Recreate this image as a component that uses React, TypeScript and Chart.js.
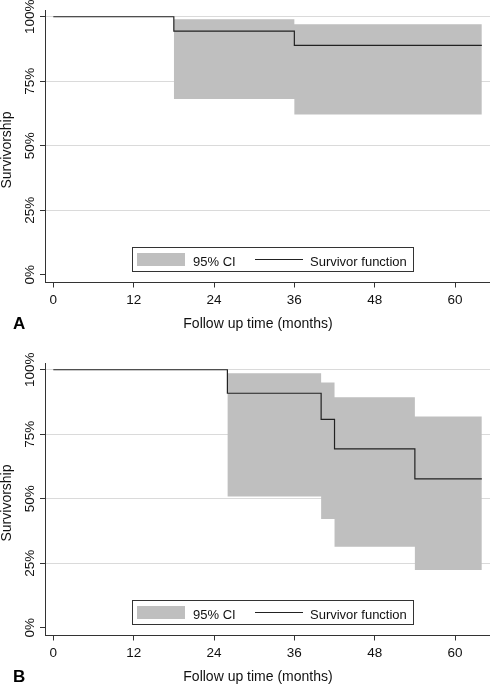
import React, { useEffect, useRef } from 'react';
import { Chart, registerables } from 'chart.js';

Chart.register(...registerables);

// ---- shared axis data ----
const xTickValues = [0, 12, 24, 36, 48, 60];
const yTickValues = [0, 25, 50, 75, 100];
const xTitle = 'Follow up time (months)';
const yTitle = 'Survivorship';
const legendLabels = ['95% CI', 'Survivor function'];

// ---- Panel A ----
const timesA = [0, 18, 36, 64];
const survivalA = [100, 94.4, 88.9, 88.9];
const ciTimesA = [18, 36, 64];
const upperA = [99.0, 97.1, 97.1];
const lowerA = [68.1, 62.1, 62.1];

// ---- Panel B ----
const timesB = [0, 26, 40, 42, 54, 64];
const survivalB = [100, 90.9, 80.8, 69.3, 57.7, 57.7];
const ciTimesB = [26, 40, 42, 54, 64];
const upperB = [98.6, 95.1, 89.3, 81.9, 81.9];
const lowerB = [50.9, 42.2, 31.4, 22.4, 22.4];

const FONT = '"Liberation Sans", Arial, sans-serif';
const CI_COLOR = '#bfbfbf';
const LINE_COLOR = '#222222';
const AXIS_COLOR = '#333333';
const GRID_COLOR = '#dadada';
const TEXT_COLOR = '#111111';

const W = 490;
const H = 353;

function toPts(xs: number[], ys: number[]) {
  return xs.map((x, i) => ({ x, y: ys[i] }));
}

function makeTextPlugin(letter: string) {
  return {
    id: 'kmText' + letter,
    afterDraw(chart: any) {
      const ctx = chart.ctx as CanvasRenderingContext2D;
      const xs = chart.scales.x;
      const ys = chart.scales.y;
      ctx.save();
      ctx.fillStyle = TEXT_COLOR;
      ctx.textBaseline = 'alphabetic';

      // x tick labels
      ctx.font = `13.5px ${FONT}`;
      ctx.textAlign = 'center';
      for (const v of xTickValues) {
        ctx.fillText(String(v), xs.getPixelForValue(v), 326);
      }
      // y tick labels (rotated)
      for (const v of yTickValues) {
        ctx.save();
        ctx.translate(34, ys.getPixelForValue(v));
        ctx.rotate(-Math.PI / 2);
        ctx.fillText(v + '%', 0, 0);
        ctx.restore();
      }
      // axis titles
      ctx.font = `14px ${FONT}`;
      ctx.fillText(xTitle, 258, 350);
      ctx.save();
      ctx.translate(10.5, 172);
      ctx.rotate(-Math.PI / 2);
      ctx.fillText(yTitle, 0, 0);
      ctx.restore();

      // panel letter
      ctx.font = `bold 17px ${FONT}`;
      ctx.textAlign = 'left';
      ctx.fillStyle = '#000';
      ctx.fillText(letter, 13, 350.5);

      // legend
      ctx.fillStyle = '#ffffff';
      ctx.fillRect(132.5, 269.5, 281, 24);
      ctx.strokeStyle = AXIS_COLOR;
      ctx.lineWidth = 1;
      ctx.strokeRect(132.5, 269.5, 281, 24);
      ctx.fillStyle = CI_COLOR;
      ctx.fillRect(137, 275, 48, 13);
      ctx.strokeStyle = LINE_COLOR;
      ctx.beginPath();
      ctx.moveTo(255, 281.5);
      ctx.lineTo(303, 281.5);
      ctx.stroke();
      ctx.fillStyle = TEXT_COLOR;
      ctx.font = `13px ${FONT}`;
      ctx.fillText(legendLabels[0], 193, 287.5);
      ctx.fillText(legendLabels[1], 310, 287.5);
      ctx.restore();
    },
  };
}

function KMPanel(props: {
  letter: string;
  top: number;
  times: number[];
  survival: number[];
  ciTimes: number[];
  upper: number[];
  lower: number[];
}) {
  const ref = useRef<HTMLCanvasElement>(null);
  useEffect(() => {
    if (!ref.current) return;
    const chart = new Chart(ref.current, {
      type: 'line',
      data: {
        datasets: [
          {
            label: legendLabels[1],
            data: toPts(props.times, props.survival),
            stepped: 'before',
            borderWidth: 1.2,
            borderColor: LINE_COLOR,
            pointRadius: 0,
            fill: false,
            order: 0,
          },
          {
            label: 'upper',
            data: toPts(props.ciTimes, props.upper),
            stepped: 'before',
            borderWidth: 0,
            borderColor: 'rgba(0,0,0,0)',
            backgroundColor: CI_COLOR,
            pointRadius: 0,
            fill: '+1',
            order: 1,
          },
          {
            label: 'lower',
            data: toPts(props.ciTimes, props.lower),
            stepped: 'before',
            borderWidth: 0,
            borderColor: 'rgba(0,0,0,0)',
            pointRadius: 0,
            fill: false,
            order: 2,
          },
        ],
      } as any,
      options: {
        animation: false,
        responsive: false,
        devicePixelRatio: 1,
        layout: { padding: { top: 32.3, left: 0, right: 0, bottom: 0 } },
        plugins: {
          legend: { display: false },
          tooltip: { enabled: false },
          filler: { drawTime: 'beforeDatasetsDraw' },
        },
        scales: {
          x: {
            type: 'linear',
            min: -1.24,
            max: 65.22,
            afterBuildTicks: (s: any) => {
              s.ticks = xTickValues.map((v) => ({ value: v }));
            },
            afterFit: (s: any) => {
              s.height = 48.5;
            },
            ticks: { display: false },
            grid: {
              drawOnChartArea: false,
              drawTicks: true,
              tickLength: 5,
              tickColor: AXIS_COLOR,
              tickWidth: 1,
            },
            border: { display: true, color: AXIS_COLOR, width: 1 },
          },
          y: {
            type: 'linear',
            min: -3,
            max: 102.5,
            afterBuildTicks: (s: any) => {
              s.ticks = yTickValues.map((v) => ({ value: v }));
            },
            afterFit: (s: any) => {
              s.width = 45;
            },
            ticks: { display: false },
            grid: {
              drawOnChartArea: true,
              drawTicks: true,
              tickLength: 5,
              tickColor: AXIS_COLOR,
              tickWidth: 1,
              lineWidth: 1,
              color: (c: any) => (c.tick && c.tick.value === 0 ? 'rgba(0,0,0,0)' : GRID_COLOR),
            },
            border: { display: true, color: AXIS_COLOR, width: 1 },
          },
        },
      } as any,
      plugins: [makeTextPlugin(props.letter)],
    });
    return () => chart.destroy();
  }, []);
  return (
    <canvas
      ref={ref}
      width={W}
      height={H}
      style={{ position: 'absolute', left: 0, top: props.top, width: W, height: H, display: 'block' }}
    />
  );
}

export default function App() {
  return (
    <div
      style={{
        position: 'absolute',
        left: 0,
        top: 0,
        width: W,
        height: 684,
        overflow: 'hidden',
        background: '#ffffff',
      }}
    >
      <KMPanel letter="A" top={-22} times={timesA} survival={survivalA} ciTimes={ciTimesA} upper={upperA} lower={lowerA} />
      <KMPanel letter="B" top={331} times={timesB} survival={survivalB} ciTimes={ciTimesB} upper={upperB} lower={lowerB} />
    </div>
  );
}
